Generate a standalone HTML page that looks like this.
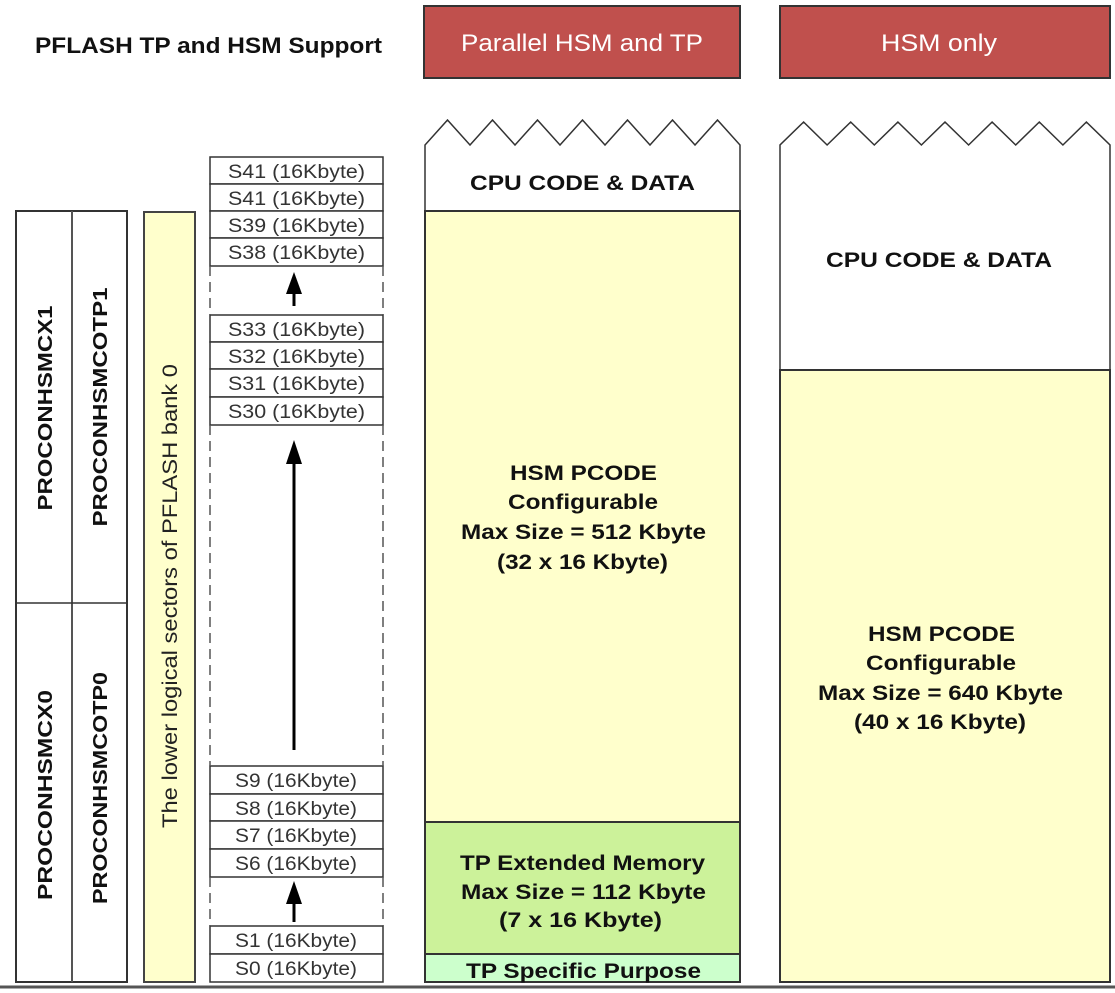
<!DOCTYPE html>
<html><head><meta charset="utf-8"><style>
html,body{margin:0;padding:0;background:#fff;}
svg{display:block;}
text{font-family:"Liberation Sans",sans-serif;}
</style></head><body>
<svg width="1115" height="993" viewBox="0 0 1115 993" xmlns="http://www.w3.org/2000/svg">
<text x="35" y="53" font-size="22" font-weight="bold" textLength="347" lengthAdjust="spacingAndGlyphs" fill="#111">PFLASH TP and HSM Support</text>
<rect x="424" y="6" width="316" height="72" fill="#c0504d" stroke="#333" stroke-width="2"/>
<text x="461" y="51" font-size="24" fill="#fff" textLength="242" lengthAdjust="spacingAndGlyphs">Parallel HSM and TP</text>
<rect x="780" y="6" width="330" height="72" fill="#c0504d" stroke="#333" stroke-width="2"/>
<text x="881" y="51" font-size="24" fill="#fff" textLength="116" lengthAdjust="spacingAndGlyphs">HSM only</text>

<rect x="16" y="211" width="111" height="771" fill="#fff" stroke="#333" stroke-width="2"/>
<line x1="72" y1="211" x2="72" y2="982" stroke="#555" stroke-width="2"/>
<line x1="16" y1="603" x2="127" y2="603" stroke="#333" stroke-width="1.5"/>
<text transform="translate(52,408) rotate(-90)" font-size="20" font-weight="bold" text-anchor="middle" textLength="205" lengthAdjust="spacingAndGlyphs" fill="#111">PROCONHSMCX1</text>
<text transform="translate(52,795) rotate(-90)" font-size="20" font-weight="bold" text-anchor="middle" textLength="210" lengthAdjust="spacingAndGlyphs" fill="#111">PROCONHSMCX0</text>
<text transform="translate(107,407) rotate(-90)" font-size="20" font-weight="bold" text-anchor="middle" textLength="239" lengthAdjust="spacingAndGlyphs" fill="#111">PROCONHSMCOTP1</text>
<text transform="translate(107,788) rotate(-90)" font-size="20" font-weight="bold" text-anchor="middle" textLength="232" lengthAdjust="spacingAndGlyphs" fill="#111">PROCONHSMCOTP0</text>

<rect x="144" y="212" width="51" height="770" fill="#ffffcc" stroke="#444" stroke-width="2"/>
<text transform="translate(177,596) rotate(-90)" font-size="21" text-anchor="middle" textLength="464" lengthAdjust="spacingAndGlyphs" fill="#222">The lower logical sectors of PFLASH bank 0</text>

<g stroke="#333" stroke-width="1.5" fill="#fff">
<rect x="210" y="157" width="173" height="27"/>
<rect x="210" y="184" width="173" height="27"/>
<rect x="210" y="211" width="173" height="27"/>
<rect x="210" y="238" width="173" height="28"/>
<rect x="210" y="315" width="173" height="27"/>
<rect x="210" y="342" width="173" height="27"/>
<rect x="210" y="369" width="173" height="28"/>
<rect x="210" y="397" width="173" height="28"/>
<rect x="210" y="766" width="173" height="28"/>
<rect x="210" y="794" width="173" height="27"/>
<rect x="210" y="821" width="173" height="28"/>
<rect x="210" y="849" width="173" height="28"/>
<rect x="210" y="926" width="173" height="28"/>
<rect x="210" y="954" width="173" height="28"/>
</g>
<g stroke="#555" stroke-width="1.5" stroke-dasharray="10,6">
<line x1="210" y1="266" x2="210" y2="315"/><line x1="383" y1="266" x2="383" y2="315"/>
<line x1="210" y1="425" x2="210" y2="766"/><line x1="383" y1="425" x2="383" y2="766"/>
<line x1="210" y1="877" x2="210" y2="926"/><line x1="383" y1="877" x2="383" y2="926"/>
</g>
<g font-size="19" fill="#333">
<text x="228" y="178" textLength="137" lengthAdjust="spacingAndGlyphs">S41 (16Kbyte)</text>
<text x="228" y="205" textLength="137" lengthAdjust="spacingAndGlyphs">S41 (16Kbyte)</text>
<text x="228" y="232" textLength="137" lengthAdjust="spacingAndGlyphs">S39 (16Kbyte)</text>
<text x="228" y="259" textLength="137" lengthAdjust="spacingAndGlyphs">S38 (16Kbyte)</text>
<text x="228" y="336" textLength="137" lengthAdjust="spacingAndGlyphs">S33 (16Kbyte)</text>
<text x="228" y="363" textLength="137" lengthAdjust="spacingAndGlyphs">S32 (16Kbyte)</text>
<text x="228" y="390" textLength="137" lengthAdjust="spacingAndGlyphs">S31 (16Kbyte)</text>
<text x="228" y="418" textLength="137" lengthAdjust="spacingAndGlyphs">S30 (16Kbyte)</text>
<text x="235" y="787" textLength="122" lengthAdjust="spacingAndGlyphs">S9 (16Kbyte)</text>
<text x="235" y="815" textLength="122" lengthAdjust="spacingAndGlyphs">S8 (16Kbyte)</text>
<text x="235" y="842" textLength="122" lengthAdjust="spacingAndGlyphs">S7 (16Kbyte)</text>
<text x="235" y="870" textLength="122" lengthAdjust="spacingAndGlyphs">S6 (16Kbyte)</text>
<text x="235" y="947" textLength="122" lengthAdjust="spacingAndGlyphs">S1 (16Kbyte)</text>
<text x="235" y="975" textLength="122" lengthAdjust="spacingAndGlyphs">S0 (16Kbyte)</text>
</g>
<g fill="#000" stroke="#000" stroke-width="3">
<line x1="294" y1="306" x2="294" y2="290"/><polygon points="294,272 286,294 302,294" stroke="none"/>
<line x1="294" y1="750" x2="294" y2="460"/><polygon points="294,440 286,464 302,464" stroke="none"/>
<line x1="294" y1="922" x2="294" y2="900"/><polygon points="294,881 286,904 302,904" stroke="none"/>
</g>

<polygon points="425,982 425,145 447.5,120 470,145 492.5,120 515,145 537.5,120 560,145 582.5,120 605,145 627.5,120 650,145 672.5,120 695,145 717.5,120 740,145 740,982" fill="#fff" stroke="#333" stroke-width="1.5"/>
<rect x="425" y="211" width="315" height="611" fill="#ffffcc" stroke="#333" stroke-width="2"/>
<rect x="425" y="822" width="315" height="132" fill="#ccf29a" stroke="#333" stroke-width="2"/>
<rect x="425" y="954" width="315" height="28" fill="#ccffcc" stroke="#333" stroke-width="2"/>
<g font-size="21" font-weight="bold" fill="#111">
<text x="470" y="190" textLength="225" lengthAdjust="spacingAndGlyphs">CPU CODE &amp; DATA</text>
<text x="510" y="480" textLength="147" lengthAdjust="spacingAndGlyphs">HSM PCODE</text>
<text x="508" y="509" textLength="150" lengthAdjust="spacingAndGlyphs">Configurable</text>
<text x="461" y="539" textLength="245" lengthAdjust="spacingAndGlyphs">Max Size = 512 Kbyte</text>
<text x="497" y="569" textLength="171" lengthAdjust="spacingAndGlyphs">(32 x 16 Kbyte)</text>
<text x="460" y="870" textLength="245" lengthAdjust="spacingAndGlyphs">TP Extended Memory</text>
<text x="461" y="899" textLength="245" lengthAdjust="spacingAndGlyphs">Max Size = 112 Kbyte</text>
<text x="499" y="927" textLength="163" lengthAdjust="spacingAndGlyphs">(7 x 16 Kbyte)</text>
<text x="466" y="978" textLength="235" lengthAdjust="spacingAndGlyphs">TP Specific Purpose</text>
</g>

<polygon points="780,982 780,145 803.6,122 827.1,145 850.7,122 874.3,145 897.9,122 921.4,145 945,122 968.6,145 992.1,122 1015.7,145 1039.3,122 1062.9,145 1086.4,122 1110,145 1110,982" fill="#fff" stroke="#333" stroke-width="1.5"/>
<rect x="780" y="370" width="330" height="612" fill="#ffffcc" stroke="#333" stroke-width="2"/>
<g font-size="21" font-weight="bold" fill="#111">
<text x="826" y="267" textLength="226" lengthAdjust="spacingAndGlyphs">CPU CODE &amp; DATA</text>
<text x="868" y="641" textLength="147" lengthAdjust="spacingAndGlyphs">HSM PCODE</text>
<text x="866" y="670" textLength="150" lengthAdjust="spacingAndGlyphs">Configurable</text>
<text x="818" y="700" textLength="245" lengthAdjust="spacingAndGlyphs">Max Size = 640 Kbyte</text>
<text x="854" y="729" textLength="172" lengthAdjust="spacingAndGlyphs">(40 x 16 Kbyte)</text>
</g>
<line x1="0" y1="987" x2="1115" y2="987" stroke="#555" stroke-width="3"/>
</svg>
</body></html>
